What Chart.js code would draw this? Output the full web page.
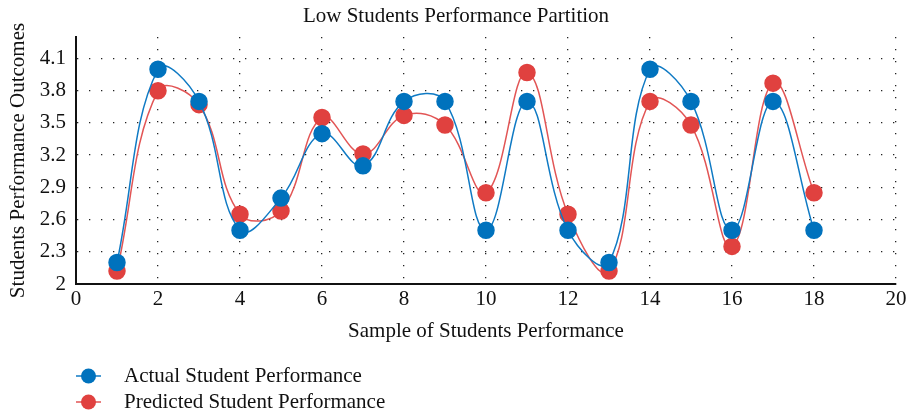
<!DOCTYPE html>
<html>
<head>
<meta charset="utf-8">
<script src="https://cdn.jsdelivr.net/npm/chart.js@4/dist/chart.umd.min.js"></script>
<style>
  html, body { margin: 0; padding: 0; background: #fff; }
  #wrap { width: 906px; height: 417px; }
</style>
</head>
<body>
<div id="wrap"><canvas id="chart"></canvas></div>
<script>
// data
var samples = [1, 2, 3, 4, 5, 6, 7, 8, 9, 10, 11, 12, 13, 14, 15, 16, 17, 18];
var actual = [2.2, 4.0, 3.7, 2.5, 2.8, 3.4, 3.1, 3.7, 3.7, 2.5, 3.7, 2.5, 2.2, 4.0, 3.7, 2.5, 3.7, 2.5];
var predicted = [2.12, 3.8, 3.67, 2.65, 2.68, 3.55, 3.21, 3.57, 3.48, 2.85, 3.97, 2.65, 2.12, 3.7, 3.48, 2.35, 3.87, 2.85];
var yTicks = [2, 2.3, 2.6, 2.9, 3.2, 3.5, 3.8, 4.1];
var xTicks = [0, 2, 4, 6, 8, 10, 12, 14, 16, 18, 20];

var serif = "'Liberation Serif', 'DejaVu Serif', serif";

function toPoints(vals) {
    return samples.map(function (x, i) { return { x: x, y: vals[i] }; });
}

// legend stacked in one column under the chart
var columnLegend = {
    id: 'columnLegend',
    afterDraw: function (chart) {
        var ctx = chart.ctx;
        var x0 = chart.chartArea.left;
        var rowY = [376, 402];
        ctx.save();
        chart.data.datasets.forEach(function (ds, i) {
            var y = rowY[i];
            ctx.strokeStyle = ds.borderColor;
            ctx.lineWidth = 1.5;
            ctx.beginPath();
            ctx.moveTo(x0, y);
            ctx.lineTo(x0 + 25, y);
            ctx.stroke();
            ctx.fillStyle = ds.pointBackgroundColor;
            ctx.beginPath();
            ctx.arc(x0 + 12.5, y, 7.5, 0, Math.PI * 2);
            ctx.fill();
            ctx.fillStyle = '#111';
            ctx.font = '21px ' + serif;
            ctx.textBaseline = 'middle';
            ctx.textAlign = 'left';
            ctx.fillText(ds.label, x0 + 48, y);
        });
        ctx.restore();
    }
};

var ctx = document.getElementById('chart').getContext('2d');
new Chart(ctx, {
    type: 'line',
    data: {
        datasets: [{
            label: 'Actual Student Performance',
            data: toPoints(actual),
            borderColor: '#0F7AC4',
            pointBackgroundColor: '#0072BD',
            pointBorderColor: '#0072BD',
            borderWidth: 1.5,
            pointRadius: 8,
            tension: 0.4,
            fill: false
        }, {
            label: 'Predicted Student Performance',
            data: toPoints(predicted),
            borderColor: '#E25555',
            pointBackgroundColor: '#E0413F',
            pointBorderColor: '#E0413F',
            borderWidth: 1.5,
            pointRadius: 8,
            tension: 0.4,
            fill: false
        }]
    },
    options: {
        responsive: true,
        maintainAspectRatio: false,
        animation: false,
        layout: { padding: { left: 6, right: 0, top: 0, bottom: 63 } },
        plugins: {
            legend: { display: false },
            tooltip: { enabled: false },
            title: {
                display: true,
                text: 'Low Students Performance Partition',
                color: '#111',
                font: { family: serif, size: 21, weight: 'normal' },
                padding: { top: 4, bottom: 7.8 }
            }
        },
        scales: {
            x: {
                type: 'linear',
                min: 0,
                max: 20,
                afterBuildTicks: function (scale) {
                    scale.ticks = xTicks.map(function (v) { return { value: v }; });
                },
                afterFit: function (scale) {
                    scale.height = 70;
                    scale.paddingRight = 10;
                },
                ticks: {
                    color: '#111',
                    font: { family: serif, size: 21 },
                    padding: 3,
                    maxRotation: 0
                },
                grid: {
                    color: '#222',
                    lineWidth: 1.3,
                    drawTicks: false
                },
                border: { display: true, color: '#111', width: 2, dash: [1.3, 10.7] },
                title: {
                    display: true,
                    text: 'Sample of Students Performance',
                    color: '#111',
                    font: { family: serif, size: 21 },
                    padding: { top: 10, bottom: 10 }
                }
            },
            y: {
                type: 'linear',
                min: 2,
                max: 4.3,
                afterBuildTicks: function (scale) {
                    scale.ticks = yTicks.map(function (v) { return { value: v }; });
                },
                afterFit: function (scale) { scale.width = 70; },
                ticks: {
                    color: '#111',
                    font: { family: serif, size: 21 },
                    padding: 10,
                    callback: function (v) { return String(v); }
                },
                grid: {
                    color: '#222',
                    lineWidth: 1.3,
                    drawTicks: false
                },
                border: { display: true, color: '#111', width: 2, dash: [1.3, 10.7] },
                title: {
                    display: true,
                    text: 'Students Performance Outcomes',
                    color: '#111',
                    font: { family: serif, size: 21 },
                    padding: { top: 0, bottom: 0 }
                }
            }
        }
    },
    plugins: [columnLegend]
});
</script>
</body>
</html>
